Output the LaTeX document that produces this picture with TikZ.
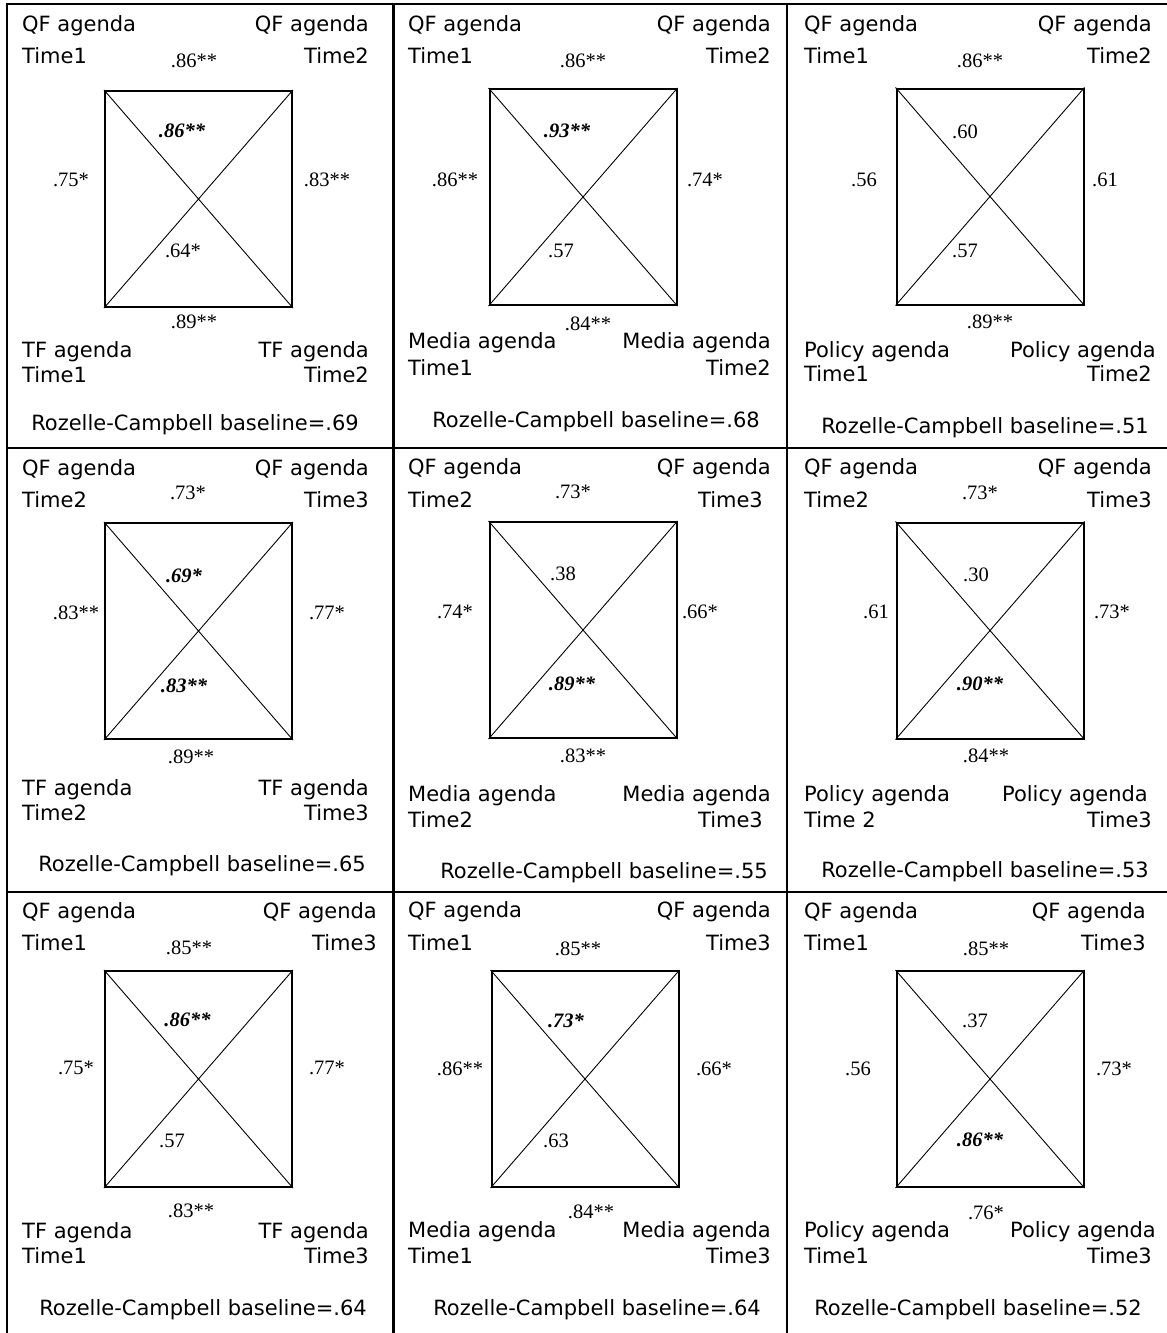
\documentclass[tikz,border=0pt]{standalone}
\usepackage{fontspec}
\setmainfont{Liberation Serif}
\newfontfamily\verdana{DejaVu Sans}
\usepackage{tikz}

\begin{document}
\begin{tikzpicture}[x=1pt, y=-1pt,
    lbl/.style={font=\verdana\fontsize{21}{25}\selectfont, inner sep=0pt},
    lefttxt/.style={lbl, anchor=base west},
    righttxt/.style={lbl, anchor=base east},
    midtxt/.style={lbl, anchor=base},
    num/.style={font=\fontsize{20.5}{24}\selectfont, inner sep=0pt, anchor=base},
    bnum/.style={num, font=\fontsize{20.5}{24}\selectfont\bfseries\itshape},
    frame/.style={draw, line width=2pt, minimum width=187pt, minimum height=216pt, inner sep=0pt},
    diag/.style={line width=0.9pt},
    grid/.style={line width=2.2pt}]
    \useasboundingbox (0,0) rectangle (1167,1333);

    \draw[grid] (7,4) -- (1167,4) (7,448) -- (1167,448) (7,892) -- (1167,892);
    \draw[grid] (7,3) -- (7,1333) (393.5,3) -- (393.5,1333) (787,3) -- (787,1333);

    \foreach \n/\cx/\cy in {11/198.5/199, 12/583/197, 13/990/196.5,
                           21/198.5/631, 22/583/630, 23/990/630.5,
                           31/198.5/1079, 32/585/1079, 33/990/1079} {
        \node[frame] (box\n) at (\cx,\cy) {};
        \draw[diag] (box\n.north west) -- (box\n.south east)
                    (box\n.north east) -- (box\n.south west);
    }

    % row 1
    \node[lefttxt] (q11a) at (22,31) {QF agenda};
    \node[lefttxt] (q11b) at (22,63) {Time1};
    \node[righttxt] (q11c) at (369,31) {QF agenda};
    \node[righttxt] (q11d) at (369,63) {Time2};
    \node[num] (top11) at (194,67) {.86**};
    \node[bnum] (up11) at (182,137) {.86**};
    \node[num] (lft11) at (71,186) {.75*};
    \node[num] (rgt11) at (327,186) {.83**};
    \node[num] (dn11) at (183,257) {.64*};
    \node[num] (bot11) at (194,328) {.89**};
    \node[lefttxt] (a11a) at (22,357) {TF agenda};
    \node[lefttxt] (a11b) at (22,382) {Time1};
    \node[righttxt] (a11c) at (369,357) {TF agenda};
    \node[righttxt] (a11d) at (369,382) {Time2};
    \node[midtxt] (rc11) at (195,430) {Rozelle-Campbell baseline=.69};

    \node[lefttxt] (q12a) at (408,31) {QF agenda};
    \node[lefttxt] (q12b) at (408,63) {Time1};
    \node[righttxt] (q12c) at (771,31) {QF agenda};
    \node[righttxt] (q12d) at (771,63) {Time2};
    \node[num] (top12) at (583,67) {.86**};
    \node[bnum] (up12) at (567,137) {.93**};
    \node[num] (lft12) at (455,186) {.86**};
    \node[num] (rgt12) at (705,186) {.74*};
    \node[num] (dn12) at (561,257) {.57};
    \node[num] (bot12) at (588,330) {.84**};
    \node[lefttxt] (a12a) at (408,348) {Media agenda};
    \node[lefttxt] (a12b) at (408,375) {Time1};
    \node[righttxt] (a12c) at (771,348) {Media agenda};
    \node[righttxt] (a12d) at (771,375) {Time2};
    \node[midtxt] (rc12) at (596,427) {Rozelle-Campbell baseline=.68};

    \node[lefttxt] (q13a) at (804,31) {QF agenda};
    \node[lefttxt] (q13b) at (804,63) {Time1};
    \node[righttxt] (q13c) at (1152,31) {QF agenda};
    \node[righttxt] (q13d) at (1152,63) {Time2};
    \node[num] (top13) at (980,67) {.86**};
    \node[num] (up13) at (965,138) {.60};
    \node[num] (lft13) at (864,186) {.56};
    \node[num] (rgt13) at (1105,186) {.61};
    \node[num] (dn13) at (965,257) {.57};
    \node[num] (bot13) at (990,328) {.89**};
    \node[lefttxt] (a13a) at (804,357) {Policy agenda};
    \node[lefttxt] (a13b) at (804,381) {Time1};
    \node[righttxt] (a13c) at (1156,357) {Policy agenda};
    \node[righttxt] (a13d) at (1152,381) {Time2};
    \node[midtxt] (rc13) at (985,433) {Rozelle-Campbell baseline=.51};

    % row 2
    \node[lefttxt] (q21a) at (22,475) {QF agenda};
    \node[lefttxt] (q21b) at (22,507) {Time2};
    \node[righttxt] (q21c) at (369,475) {QF agenda};
    \node[righttxt] (q21d) at (369,507) {Time3};
    \node[num] (top21) at (188,499) {.73*};
    \node[bnum] (up21) at (184,582) {.69*};
    \node[num] (lft21) at (76,619) {.83**};
    \node[num] (rgt21) at (327,619) {.77*};
    \node[bnum] (dn21) at (184,692) {.83**};
    \node[num] (bot21) at (191,763) {.89**};
    \node[lefttxt] (a21a) at (22,795) {TF agenda};
    \node[lefttxt] (a21b) at (22,820) {Time2};
    \node[righttxt] (a21c) at (369,795) {TF agenda};
    \node[righttxt] (a21d) at (369,820) {Time3};
    \node[midtxt] (rc21) at (202,871) {Rozelle-Campbell baseline=.65};

    \node[lefttxt] (q22a) at (408,474) {QF agenda};
    \node[lefttxt] (q22b) at (408,507) {Time2};
    \node[righttxt] (q22c) at (771,474) {QF agenda};
    \node[righttxt] (q22d) at (763,507) {Time3};
    \node[num] (top22) at (573,498) {.73*};
    \node[num] (up22) at (563,580) {.38};
    \node[num] (lft22) at (455,618) {.74*};
    \node[num] (rgt22) at (700,618) {.66*};
    \node[bnum] (dn22) at (572,690) {.89**};
    \node[num] (bot22) at (583,762) {.83**};
    \node[lefttxt] (a22a) at (408,801) {Media agenda};
    \node[lefttxt] (a22b) at (408,827) {Time2};
    \node[righttxt] (a22c) at (771,801) {Media agenda};
    \node[righttxt] (a22d) at (763,827) {Time3};
    \node[midtxt] (rc22) at (604,878) {Rozelle-Campbell baseline=.55};

    \node[lefttxt] (q23a) at (804,474) {QF agenda};
    \node[lefttxt] (q23b) at (804,507) {Time2};
    \node[righttxt] (q23c) at (1152,474) {QF agenda};
    \node[righttxt] (q23d) at (1152,507) {Time3};
    \node[num] (top23) at (980,499) {.73*};
    \node[num] (up23) at (976,581) {.30};
    \node[num] (lft23) at (876,618) {.61};
    \node[num] (rgt23) at (1112,618) {.73*};
    \node[bnum] (dn23) at (980,690) {.90**};
    \node[num] (bot23) at (986,762) {.84**};
    \node[lefttxt] (a23a) at (804,801) {Policy agenda};
    \node[lefttxt] (a23b) at (804,827) {Time 2};
    \node[righttxt] (a23c) at (1148,801) {Policy agenda};
    \node[righttxt] (a23d) at (1152,827) {Time3};
    \node[midtxt] (rc23) at (985,877) {Rozelle-Campbell baseline=.53};

    % row 3
    \node[lefttxt] (q31a) at (22,918) {QF agenda};
    \node[lefttxt] (q31b) at (22,950) {Time1};
    \node[righttxt] (q31c) at (377,918) {QF agenda};
    \node[righttxt] (q31d) at (377,950) {Time3};
    \node[num] (top31) at (189,954) {.85**};
    \node[bnum] (up31) at (187.5,1026) {.86**};
    \node[num] (lft31) at (76,1074) {.75*};
    \node[num] (rgt31) at (327,1074) {.77*};
    \node[num] (dn31) at (172,1147) {.57};
    \node[num] (bot31) at (191,1217) {.83**};
    \node[lefttxt] (a31a) at (22,1238) {TF agenda};
    \node[lefttxt] (a31b) at (22,1263) {Time1};
    \node[righttxt] (a31c) at (369,1238) {TF agenda};
    \node[righttxt] (a31d) at (369,1263) {Time3};
    \node[midtxt] (rc31) at (203,1315) {Rozelle-Campbell baseline=.64};

    \node[lefttxt] (q32a) at (408,917) {QF agenda};
    \node[lefttxt] (q32b) at (408,950) {Time1};
    \node[righttxt] (q32c) at (771,917) {QF agenda};
    \node[righttxt] (q32d) at (771,950) {Time3};
    \node[num] (top32) at (578,955) {.85**};
    \node[bnum] (up32) at (566,1027) {.73*};
    \node[num] (lft32) at (460,1075) {.86**};
    \node[num] (rgt32) at (714,1075) {.66*};
    \node[num] (dn32) at (556,1147) {.63};
    \node[num] (bot32) at (591,1218) {.84**};
    \node[lefttxt] (a32a) at (408,1237) {Media agenda};
    \node[lefttxt] (a32b) at (408,1263) {Time1};
    \node[righttxt] (a32c) at (771,1237) {Media agenda};
    \node[righttxt] (a32d) at (771,1263) {Time3};
    \node[midtxt] (rc32) at (597,1315) {Rozelle-Campbell baseline=.64};

    \node[lefttxt] (q33a) at (804,918) {QF agenda};
    \node[lefttxt] (q33b) at (804,950) {Time1};
    \node[righttxt] (q33c) at (1146,918) {QF agenda};
    \node[righttxt] (q33d) at (1146,950) {Time3};
    \node[num] (top33) at (986,955) {.85**};
    \node[num] (up33) at (975,1027) {.37};
    \node[num] (lft33) at (858,1075) {.56};
    \node[num] (rgt33) at (1114,1075) {.73*};
    \node[bnum] (dn33) at (980,1146) {.86**};
    \node[num] (bot33) at (986,1219) {.76*};
    \node[lefttxt] (a33a) at (804,1237) {Policy agenda};
    \node[lefttxt] (a33b) at (804,1263) {Time1};
    \node[righttxt] (a33c) at (1156,1237) {Policy agenda};
    \node[righttxt] (a33d) at (1152,1263) {Time3};
    \node[midtxt] (rc33) at (978,1315) {Rozelle-Campbell baseline=.52};
\end{tikzpicture}
\end{document}
